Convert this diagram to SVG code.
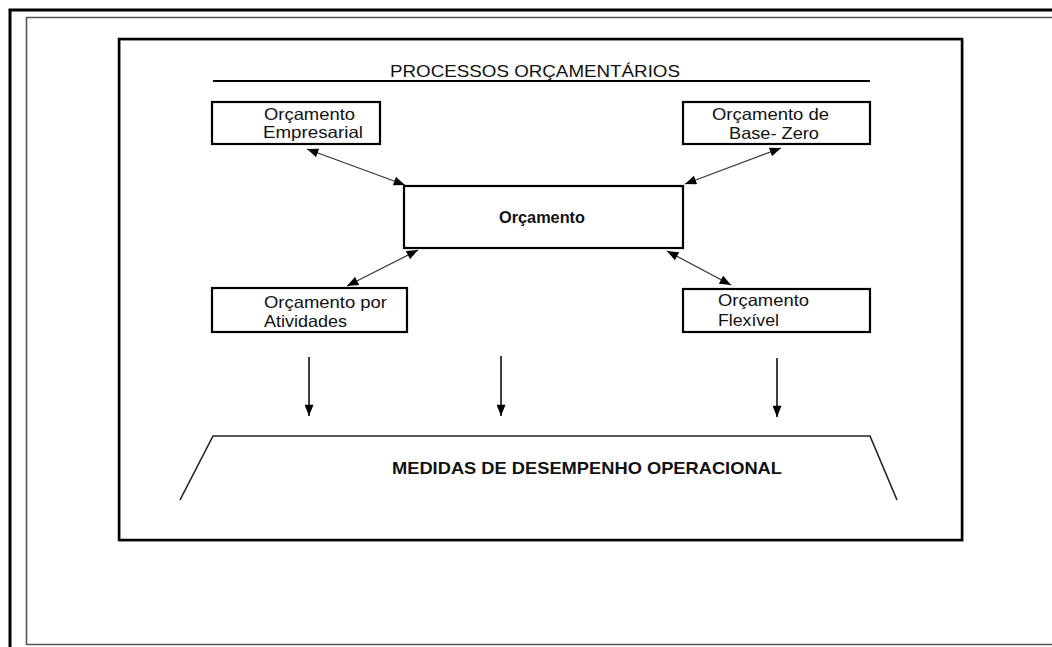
<svg xmlns="http://www.w3.org/2000/svg" width="1052" height="647" viewBox="0 0 1052 647">
<style>
.t{font-family:"Liberation Sans",Arial,sans-serif;fill:#111}
.b{font-weight:bold}
.box{fill:#fff;stroke:#000;stroke-width:2.2}
.con{stroke:#333;stroke-width:1.2;fill:none}
.v{stroke:#000;stroke-width:1.5;fill:none}
</style>
<defs>
<marker id="ah" viewBox="0 0 10 8" refX="10" refY="4" markerWidth="12" markerHeight="9" markerUnits="userSpaceOnUse" orient="auto-start-reverse">
<path d="M0,0 L10,4 L0,8 z" fill="#000"/>
</marker>
</defs>
<rect width="1052" height="647" fill="#fff"/>
<g id="frame">
<path d="M10,647 V10 H1052" fill="none" stroke="#000" stroke-width="3"/>
<path d="M26.5,645 V17.5 H1052 M26.5,644.5 H1052" fill="none" stroke="#555" stroke-width="1.6"/>
<rect x="120" y="40" width="843" height="501" fill="none" stroke="#aaa" stroke-width="1.5"/>
<rect x="119" y="39" width="843" height="501" fill="none" stroke="#000" stroke-width="2.5"/>
</g>
<g id="title">
<text class="t" x="390" y="77" font-size="16.5" textLength="290" lengthAdjust="spacingAndGlyphs">PROCESSOS ORÇAMENTÁRIOS</text>
<line x1="213" y1="81" x2="870" y2="81" stroke="#000" stroke-width="2"/>
</g>
<g id="n-empresarial" font-size="16.5">
<rect class="box" x="212" y="102" width="168" height="42"/>
<text class="t" x="264" y="120" textLength="91" lengthAdjust="spacingAndGlyphs">Orçamento</text>
<text class="t" x="263" y="138" textLength="100" lengthAdjust="spacingAndGlyphs">Empresarial</text>
</g>
<g id="n-basezero" font-size="16.5">
<rect class="box" x="683" y="102" width="187" height="42"/>
<text class="t" x="712" y="120" textLength="117" lengthAdjust="spacingAndGlyphs">Orçamento de</text>
<text class="t" x="729" y="139" textLength="90" lengthAdjust="spacingAndGlyphs">Base- Zero</text>
</g>
<g id="n-orcamento">
<rect class="box" x="404" y="186" width="279" height="62" stroke-width="2.6"/>
<text class="t b" x="499" y="223" font-size="16" textLength="86" lengthAdjust="spacingAndGlyphs">Orçamento</text>
</g>
<g id="n-atividades" font-size="16.5">
<rect class="box" x="212" y="288" width="195" height="44"/>
<text class="t" x="264" y="308" textLength="123" lengthAdjust="spacingAndGlyphs">Orçamento por</text>
<text class="t" x="264" y="327" textLength="83" lengthAdjust="spacingAndGlyphs">Atividades</text>
</g>
<g id="n-flexivel" font-size="16.5">
<rect class="box" x="683" y="289" width="187" height="43"/>
<text class="t" x="718" y="306" textLength="91" lengthAdjust="spacingAndGlyphs">Orçamento</text>
<text class="t" x="718" y="326" textLength="61" lengthAdjust="spacingAndGlyphs">Flexível</text>
</g>
<g id="n-medidas">
<path d="M180,500 L213,436 H870 L897,500" fill="none" stroke="#222" stroke-width="1.6"/>
<text class="t b" x="392" y="474" font-size="16.5" textLength="390" lengthAdjust="spacingAndGlyphs">MEDIDAS DE DESEMPENHO OPERACIONAL</text>
</g>
<g id="connectors">
<line class="con" x1="307" y1="149" x2="405" y2="185" marker-start="url(#ah)" marker-end="url(#ah)"/>
<line class="con" x1="685" y1="184" x2="781" y2="148" marker-start="url(#ah)" marker-end="url(#ah)"/>
<line class="con" x1="418" y1="250" x2="347" y2="286" marker-start="url(#ah)" marker-end="url(#ah)"/>
<line class="con" x1="667" y1="251" x2="731" y2="285" marker-start="url(#ah)" marker-end="url(#ah)"/>
<line class="v" x1="309" y1="357" x2="309" y2="416" marker-end="url(#ah)"/>
<line class="v" x1="501" y1="356" x2="501" y2="416" marker-end="url(#ah)"/>
<line class="v" x1="777" y1="358" x2="777" y2="417" marker-end="url(#ah)"/>
</g>
</svg>
